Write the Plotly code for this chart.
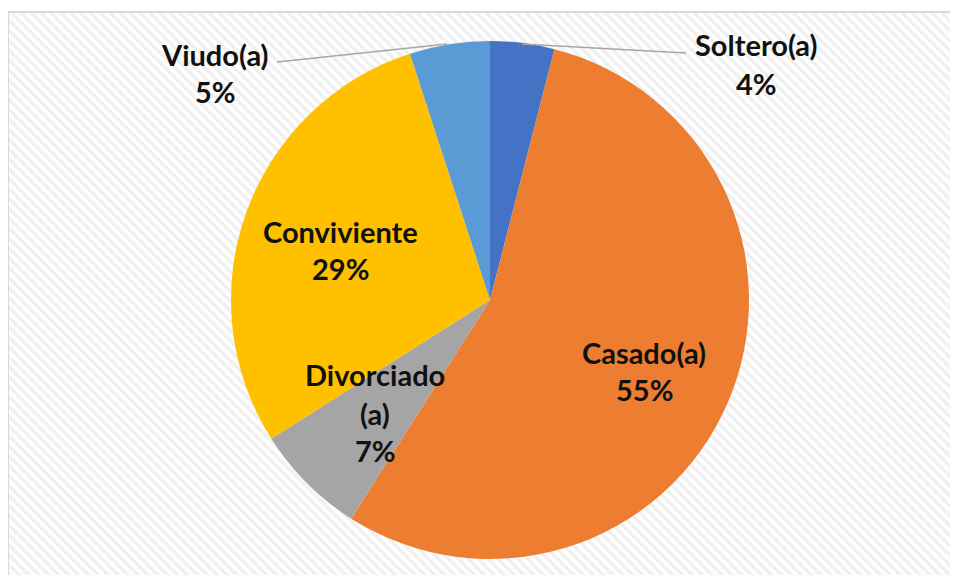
import base64
import plotly.graph_objects as go

# ---- data ----
labels = ["Soltero(a)", "Casado(a)", "Divorciado (a)", "Conviviente", "Viudo(a)"]
label_lines = [["Soltero(a)"], ["Casado(a)"], ["Divorciado", "(a)"], ["Conviviente"], ["Viudo(a)"]]
values = [4, 55, 7, 29, 5]
colors = ["#4472C4", "#ED7D31", "#A5A5A5", "#FFC000", "#5B9BD5"]

# the page body has an 8px margin on every side; keep the figure inside the window
OFF = 8
W, H = 958 - 2 * OFF, 583 - 2 * OFF

def px(x):
    return (x - OFF) / W

def py(y):
    return 1 - (y - OFF) / H

cx, cy, r = 490, 300, 259

fig = go.Figure()
fig.add_trace(go.Pie(
    labels=labels,
    values=values,
    sort=False,
    direction="clockwise",
    rotation=0,
    marker=dict(colors=colors, line=dict(width=0)),
    textinfo="none",
    showlegend=False,
    domain=dict(x=[px(cx - r), px(cx + r)], y=[py(cy + r), py(cy - r)]),
))

# label placements (pixel centres of each line)
label_pos = [(756, [44, 82]), (644, [351, 388]), (375, [373, 412, 449]),
             (340, [230, 267]), (215, [53, 90])]
total = sum(values)
annotations = []
for lines, v, (x, ys) in zip(label_lines, values, label_pos):
    texts = lines + [f"{round(100 * v / total)}%"]
    for t, y in zip(texts, ys):
        annotations.append(dict(
            x=px(x), y=py(y + 1), xref="paper", yref="paper",
            text=t, showarrow=False, xanchor="center", yanchor="middle",
            font=dict(family="Lato", size=29, color="#111111", weight="bold"),
        ))

# background stripe pattern
IW, IH = W - 1, H - 5
svg = (
    f'<svg xmlns="http://www.w3.org/2000/svg" width="{IW}" height="{IH}" viewBox="0 0 {IW} {IH}">'
    '<defs><pattern id="p" width="7" height="7" patternUnits="userSpaceOnUse" '
    'patternTransform="rotate(-45)">'
    '<rect width="7" height="7" fill="#ffffff"/>'
    '<rect width="3.5" height="7" fill="#f0f0f0"/></pattern></defs>'
    f'<rect width="{IW}" height="{IH}" fill="url(#p)"/></svg>'
)
src = "data:image/svg+xml;base64," + base64.b64encode(svg.encode()).decode()

fig.update_layout(
    width=W, height=H,
    margin=dict(l=0, r=0, t=0, b=0),
    paper_bgcolor="white",
    plot_bgcolor="white",
    annotations=annotations,
    images=[dict(source=src, xref="paper", yref="paper", x=1 / W, y=1 - 5 / H,
                 sizex=IW / W, sizey=IH / H, sizing="stretch",
                 xanchor="left", yanchor="top", layer="below")],
    shapes=[
        dict(type="line", xref="paper", yref="paper", x0=px(8), y0=py(12), x1=1, y1=py(12),
             line=dict(color="#d9d9d9", width=2), layer="below"),
        dict(type="line", xref="paper", yref="paper", x0=px(8), y0=py(12), x1=px(8), y1=0,
             line=dict(color="#d9d9d9", width=2), layer="below"),
        dict(type="line", xref="paper", yref="paper", x0=px(277), y0=py(62), x1=px(447), y1=py(44),
             line=dict(color="#a6a6a6", width=1.5)),
        dict(type="line", xref="paper", yref="paper", x0=px(522), y0=py(44), x1=px(686), y1=py(53),
             line=dict(color="#a6a6a6", width=1.5)),
    ],
)

fig.write_html("out.html")
